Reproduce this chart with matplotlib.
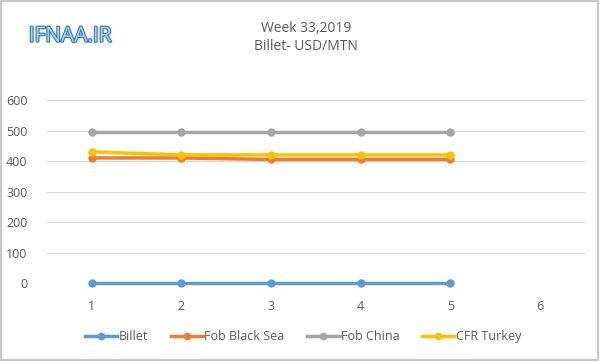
import matplotlib.pyplot as plt
import matplotlib.patheffects as pe

weeks = [1, 2, 3, 4, 5]
billet = [0, 0, 0, 0, 0]
fob_black_sea = [410, 410, 405, 405, 405]
fob_china = [495, 495, 495, 495, 495]
cfr_turkey = [430, 420, 420, 420, 420]

series = [
    ("Billet", billet, "#5b9bd5"),
    ("Fob Black Sea", fob_black_sea, "#ed7d31"),
    ("Fob China", fob_china, "#a5a5a5"),
    ("CFR Turkey", cfr_turkey, "#ffc000"),
]

plt.rcParams['font.family'] = ['Open Sans', 'DejaVu Sans']
txt = "#595959"

fig = plt.figure(figsize=(6, 3.61), dpi=100)
ax = fig.add_axes([0.078, 0.216, 0.897, 0.507])

for name, vals, col in series:
    ax.plot(weeks, vals, color=col, lw=2.5, marker="o", ms=5, label=name, clip_on=False)

ax.set_xlim(0.5, 6.5)
ax.set_ylim(0, 600)
ax.set_xticks([1, 2, 3, 4, 5, 6])
ax.set_yticks(range(0, 601, 100))
ax.grid(axis="y", color="#d9d9d9", lw=0.8)
ax.set_axisbelow(True)
for s in ax.spines.values():
    s.set_visible(False)
ax.tick_params(length=0, labelsize=9, labelcolor=txt)
ax.tick_params(axis="x", pad=12)
ax.tick_params(axis="y", pad=14)

fig.text(0.51, 0.922, "Week 33,2019", ha="center", va="center", fontsize=10, color=txt)
fig.text(0.51, 0.87, "Billet- USD/MTN", ha="center", va="center", fontsize=10, color=txt)
fig.text(0.048, 0.9, "IFNAA.IR", ha="left", va="center", fontsize=15, color="#b4d2ee",
         path_effects=[pe.withStroke(linewidth=1.6, foreground="#2e75b6")])

leg = fig.legend(loc="center", bbox_to_anchor=(0.505, 0.067), ncol=4, frameon=False,
                 fontsize=9, handlelength=2.6, columnspacing=1.8, handletextpad=0.1,
                 markerscale=0.9)
for t in leg.get_texts():
    t.set_color(txt)

border = plt.Rectangle((0.002, 0.003), 0.995, 0.993, transform=fig.transFigure,
                       fill=False, edgecolor="#c8c8c8", lw=1.5)
fig.add_artist(border)

fig.savefig("out.png", dpi=100)
